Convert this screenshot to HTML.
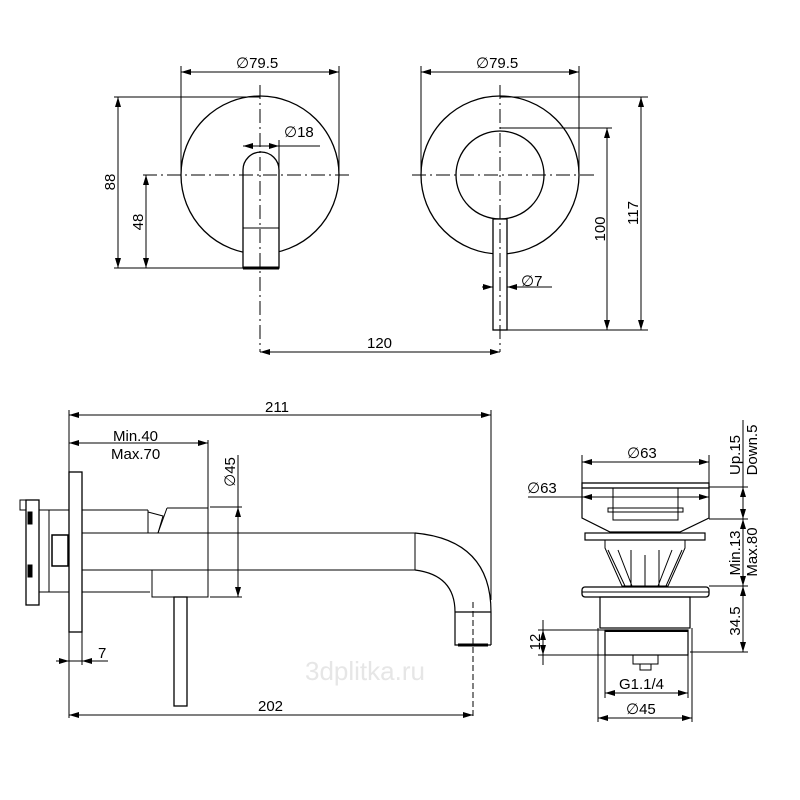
<!DOCTYPE html>
<html><head><style>html,body{margin:0;padding:0;background:#fff}svg{display:block}</style></head>
<body>
<svg width="800" height="800" viewBox="0 0 800 800" xmlns="http://www.w3.org/2000/svg" font-family="Liberation Sans, sans-serif" font-size="15" fill="none" stroke="#000" stroke-width="1">
<defs>
<marker id="a" viewBox="0 0 10 6" refX="10" refY="3" markerWidth="10" markerHeight="6" orient="auto-start-reverse" markerUnits="userSpaceOnUse"><path d="M0,0L10,3L0,6z" fill="#000" stroke="none"/></marker>
</defs>
<g stroke-width="1">
<!-- top-left view -->
<circle cx="260" cy="175" r="79" stroke-width="1.3"/>
<path d="M243,268V170a18,18 0 0 1 36,0V268Z" fill="#fff" stroke-width="1.3"/>
<line x1="243" y1="228" x2="279" y2="228"/>
<line x1="243" y1="268" x2="279" y2="268" stroke-width="3"/>
<line x1="260" y1="85" x2="260" y2="352" stroke-dasharray="14,4,2,4"/>
<line x1="143" y1="175" x2="352" y2="175" stroke-dasharray="14,4,2,4"/>
<line x1="181" y1="175" x2="181" y2="66"/><line x1="339" y1="175" x2="339" y2="66"/>
<line x1="181" y1="72" x2="339" y2="72" marker-start="url(#a)" marker-end="url(#a)"/>
<line x1="114" y1="97" x2="260" y2="97"/><line x1="114" y1="268" x2="243" y2="268"/>
<line x1="118" y1="97" x2="118" y2="268" marker-start="url(#a)" marker-end="url(#a)"/>
<line x1="146" y1="175" x2="146" y2="268" marker-start="url(#a)" marker-end="url(#a)"/>
<line x1="279" y1="140" x2="279" y2="175"/>
<line x1="243" y1="146" x2="279" y2="146" marker-start="url(#a)" marker-end="url(#a)"/>
<line x1="279" y1="146" x2="320" y2="146"/>
<!-- top-right view -->
<circle cx="500" cy="175" r="79" stroke-width="1.3"/>
<circle cx="500" cy="175" r="44" stroke-width="1.3"/>
<rect x="493" y="219" width="14" height="111" fill="#fff" stroke-width="1.3"/>
<line x1="500" y1="85" x2="500" y2="352" stroke-dasharray="14,4,2,4"/>
<line x1="412" y1="175" x2="594" y2="175" stroke-dasharray="14,4,2,4"/>
<line x1="421" y1="175" x2="421" y2="66"/><line x1="579" y1="175" x2="579" y2="66"/>
<line x1="421" y1="72" x2="579" y2="72" marker-start="url(#a)" marker-end="url(#a)"/>
<line x1="500" y1="97" x2="648" y2="97"/><line x1="500" y1="128" x2="612" y2="128"/>
<line x1="507" y1="330" x2="648" y2="330"/>
<line x1="641" y1="97" x2="641" y2="330" marker-start="url(#a)" marker-end="url(#a)"/>
<line x1="607" y1="128" x2="607" y2="330" marker-start="url(#a)" marker-end="url(#a)"/>
<line x1="482" y1="287" x2="493" y2="287" marker-end="url(#a)"/>
<line x1="518" y1="287" x2="507" y2="287" marker-end="url(#a)"/>
<line x1="507" y1="287" x2="552" y2="287"/>
<line x1="260" y1="352" x2="500" y2="352" marker-start="url(#a)" marker-end="url(#a)"/>
<!-- bottom-left side view -->
<rect x="26" y="500" width="13" height="105" stroke-width="1.3"/>
<rect x="20" y="500" width="6" height="10"/>
<rect x="28" y="512" width="4" height="12" fill="#000"/><rect x="28" y="565" width="4" height="12" fill="#000"/>
<rect x="39" y="510" width="10" height="82"/>
<rect x="49" y="510" width="20" height="82"/>
<rect x="52" y="535" width="16" height="31" stroke-width="1.5"/>
<rect x="69" y="472" width="13" height="160" stroke-width="1.3"/>
<line x1="82" y1="510" x2="148" y2="510"/><line x1="148" y1="510" x2="148" y2="533"/>
<path d="M148,512 L163,516 L158,533" />
<path d="M167,508H208V533M158,533L167,508"/>
<line x1="82" y1="533" x2="415" y2="533"/><line x1="82" y1="570" x2="415" y2="570"/>
<line x1="415" y1="533" x2="415" y2="570"/>
<line x1="82" y1="592" x2="150" y2="592"/>
<rect x="152" y="570" width="56" height="27"/>
<line x1="208" y1="508" x2="208" y2="597"/>
<rect x="174" y="597" width="13" height="109" stroke-width="1.3"/>
<path d="M415,533 Q491,540 491,612 V645 M415,570 Q455,575 455,612 V645 H491 M455,612H491" stroke-width="1.2"/>
<line x1="473" y1="602" x2="473" y2="718" stroke-dasharray="6,3"/>
<line x1="458" y1="645" x2="488" y2="645" stroke-width="3"/>
<line x1="69" y1="410" x2="69" y2="718"/><line x1="491" y1="410" x2="491" y2="600"/>
<line x1="69" y1="415" x2="491" y2="415" marker-start="url(#a)" marker-end="url(#a)"/>
<line x1="208" y1="440" x2="208" y2="508"/>
<line x1="69" y1="443" x2="208" y2="443" marker-start="url(#a)" marker-end="url(#a)"/>
<line x1="210" y1="507" x2="242" y2="507"/><line x1="210" y1="597" x2="242" y2="597"/>
<line x1="238" y1="455" x2="238" y2="597"/>
<line x1="238" y1="507" x2="238" y2="597" marker-start="url(#a)" marker-end="url(#a)"/>
<line x1="82" y1="632" x2="82" y2="665"/>
<line x1="56" y1="661" x2="69" y2="661" marker-end="url(#a)"/>
<line x1="95" y1="661" x2="82" y2="661" marker-end="url(#a)"/>
<line x1="69" y1="661" x2="108" y2="661"/>
<line x1="69" y1="715" x2="473" y2="715" marker-start="url(#a)" marker-end="url(#a)"/>
<!-- bottom-right drain -->
<rect x="582" y="483" width="127" height="5" stroke-width="1.3"/>
<path d="M582,488 V518 L610,532 H680 L709,518 V488" stroke-width="1.2"/>
<rect x="613" y="488" width="65" height="32"/>
<rect x="608" y="508" width="75" height="4"/>
<rect x="585" y="533" width="120" height="7" stroke-width="1.2"/>
<path d="M605,540 V548 L622,586 H668 L685,548 V540"/>
<path d="M608,550 L625,586 M618,550 L632,586 M631,550 V586 M645,555 V586 M659,550 V586 M672,550 L658,586 M682,550 L666,586"/>
<rect x="582" y="587" width="127" height="10" rx="3" stroke-width="1.3"/>
<line x1="582" y1="592" x2="709" y2="592"/>
<rect x="600" y="597" width="90" height="31" stroke-width="1.2"/>
<rect x="605" y="630" width="83" height="25" stroke-width="1.2"/>
<line x1="605" y1="631" x2="688" y2="631" stroke-width="2"/>
<rect x="633" y="655" width="25" height="9"/><rect x="640" y="664" width="11" height="6"/>
<line x1="582" y1="455" x2="582" y2="483"/><line x1="709" y1="455" x2="709" y2="483"/>
<line x1="582" y1="462" x2="709" y2="462" marker-start="url(#a)" marker-end="url(#a)"/>
<line x1="528" y1="497" x2="582" y2="497"/>
<line x1="582" y1="497" x2="709" y2="497" marker-start="url(#a)" marker-end="url(#a)"/>
<line x1="709" y1="487" x2="748" y2="487"/><line x1="709" y1="519" x2="748" y2="519"/>
<line x1="709" y1="586" x2="748" y2="586"/><line x1="690" y1="652" x2="748" y2="652"/>
<line x1="743" y1="420" x2="743" y2="487"/>
<line x1="743" y1="487" x2="743" y2="519" marker-start="url(#a)" marker-end="url(#a)"/>
<line x1="743" y1="519" x2="743" y2="586" marker-start="url(#a)" marker-end="url(#a)"/>
<line x1="743" y1="586" x2="743" y2="652" marker-start="url(#a)" marker-end="url(#a)"/>
<line x1="538" y1="630" x2="605" y2="630"/><line x1="538" y1="655" x2="605" y2="655"/>
<line x1="543" y1="620" x2="543" y2="665"/>
<line x1="543" y1="630" x2="543" y2="655" marker-start="url(#a)" marker-end="url(#a)"/>
<line x1="605" y1="655" x2="605" y2="698"/><line x1="688" y1="655" x2="688" y2="698"/>
<line x1="605" y1="693" x2="688" y2="693" marker-start="url(#a)" marker-end="url(#a)"/>
<line x1="598" y1="628" x2="598" y2="722"/><line x1="692" y1="628" x2="692" y2="722"/>
<line x1="598" y1="718" x2="692" y2="718" marker-start="url(#a)" marker-end="url(#a)"/>
</g>
<g fill="#000" stroke="none">
<text x="236" y="68">∅79.5</text>
<text x="476" y="68">∅79.5</text>
<text x="284" y="137">∅18</text>
<text x="521" y="286">∅7</text>
<text x="367" y="348">120</text>
<text transform="translate(115,182) rotate(-90)" text-anchor="middle">88</text>
<text transform="translate(143,222) rotate(-90)" text-anchor="middle">48</text>
<text transform="translate(605,229) rotate(-90)" text-anchor="middle">100</text>
<text transform="translate(638,213) rotate(-90)" text-anchor="middle">117</text>
<text x="265" y="412">211</text>
<text x="113" y="441">Min.40</text>
<text x="111" y="459">Max.70</text>
<text transform="translate(235,472) rotate(-90)" text-anchor="middle">∅45</text>
<text x="98" y="658">7</text>
<text x="258" y="711">202</text>
<text x="627" y="458">∅63</text>
<text x="527" y="493">∅63</text>
<text transform="translate(740,455) rotate(-90)" text-anchor="middle">Up.15</text>
<text transform="translate(757,450) rotate(-90)" text-anchor="middle">Down.5</text>
<text transform="translate(740,553) rotate(-90)" text-anchor="middle">Min.13</text>
<text transform="translate(757,552) rotate(-90)" text-anchor="middle">Max.80</text>
<text transform="translate(740,621) rotate(-90)" text-anchor="middle">34.5</text>
<text transform="translate(540,642) rotate(-90)" text-anchor="middle">12</text>
<text x="619" y="689">G1.1/4</text>
<text x="626" y="714">∅45</text>
</g>
<text x="305" y="680" font-size="26" fill="#e6e6e6" stroke="none">3dplitka.ru</text>
</svg>
</body></html>
